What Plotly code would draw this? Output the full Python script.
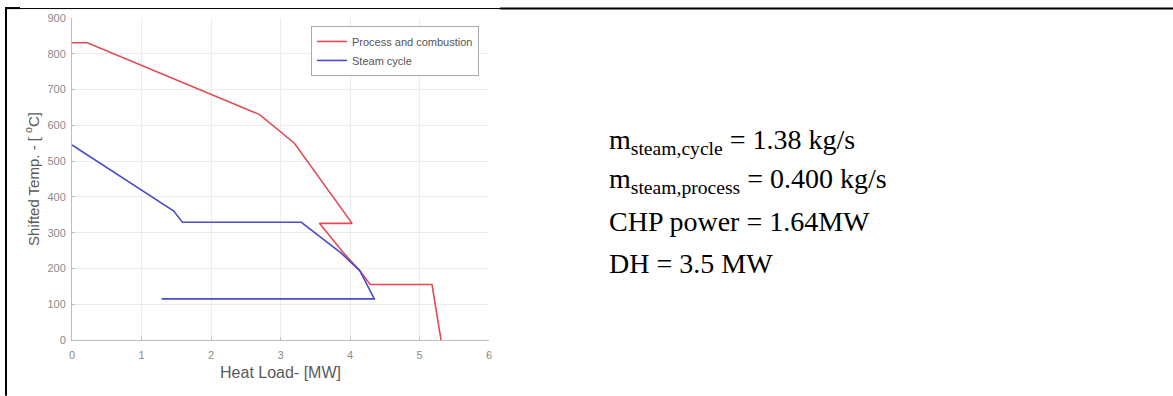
import plotly.graph_objects as go

# ---- data ----
red_name = "Process and combustion"
red_x = [0, 0.22, 2.70, 3.20, 4.03, 3.56, 3.90, 4.14, 4.29, 5.18, 5.31]
red_y = [831, 831, 630, 550, 326, 326, 245, 194, 155, 155, 0]

blue_name = "Steam cycle"
blue_x = [0, 1.46, 1.59, 3.30, 3.86, 4.14, 4.35, 1.29]
blue_y = [545, 361, 329, 329, 245, 194, 115, 115]

x_ticks = [0, 1, 2, 3, 4, 5, 6]
y_ticks = [0, 100, 200, 300, 400, 500, 600, 700, 800, 900]

info_lines = [
    "m<sub>steam,cycle</sub> = 1.38 kg/s",
    "m<sub>steam,process</sub> = 0.400 kg/s",
    "CHP power = 1.64MW",
    "DH = 3.5 MW",
]

# ---- layout geometry (pixels) ----
W, H = 1173, 396
L, R, T, B = 72, 489, 16, 340
pw, ph = R - L, B - T


def px(x):
    return (x - L) / pw


def py(y):
    return (B - y) / ph


fig = go.Figure()
fig.add_trace(go.Scatter(x=red_x, y=red_y, mode="lines", name=red_name,
                         line=dict(color="#e24a55", width=1.6)))
fig.add_trace(go.Scatter(x=blue_x, y=blue_y, mode="lines", name=blue_name,
                         line=dict(color="#4c4cc8", width=1.6)))

axis_common = dict(showgrid=True, gridcolor="#ececec", gridwidth=1,
                   zeroline=False, showline=True, linecolor="#bdbdbd", linewidth=1,
                   ticks="inside", ticklen=3, tickcolor="#bdbdbd",
                   tickfont=dict(family="Liberation Sans, Arial", size=11, color="#8a8a8a"))

fig.update_xaxes(range=[0, 6], tickvals=x_ticks, ticklabelstandoff=5,
                 title=dict(text="Heat Load- [MW]", standoff=6,
                            font=dict(family="Liberation Sans, Arial", size=16, color="#5a5a5a")),
                 **axis_common)
fig.update_yaxes(range=[0, 900], tickvals=y_ticks, ticklabelstandoff=3,
                 title=dict(text="Shifted Temp. - [ <sup>o</sup>C]", standoff=4,
                            font=dict(family="Liberation Sans, Arial", size=15, color="#5a5a5a")),
                 **axis_common)

shapes = [
    # top border: thin part then thick part
    dict(type="line", xref="paper", yref="paper", x0=px(5), x1=px(500), y0=py(6.5), y1=py(6.5),
         line=dict(color="black", width=1)),
    dict(type="line", xref="paper", yref="paper", x0=px(500), x1=px(W), y0=py(6.5), y1=py(6.5),
         line=dict(color="black", width=2)),
    dict(type="line", xref="paper", yref="paper", x0=px(5), x1=px(20), y0=py(6), y1=py(6),
         line=dict(color="black", width=2)),
    # left border
    dict(type="line", xref="paper", yref="paper", x0=px(6), x1=px(6), y0=py(5), y1=py(H),
         line=dict(color="black", width=2)),
]

annotations = []
line_y = [140, 180, 221, 263]
for txt, yy in zip(info_lines, line_y):
    annotations.append(dict(text=txt, xref="paper", yref="paper", x=px(607), y=py(yy),
                            xanchor="left", yanchor="middle", showarrow=False,
                            font=dict(family="Liberation Serif, Times New Roman", size=28, color="black")))

fig.update_layout(
    width=W, height=H,
    margin=dict(l=L, r=W - R, t=T, b=H - B, pad=0),
    paper_bgcolor="white", plot_bgcolor="white",
    showlegend=True,
    legend=dict(x=px(311), y=py(24), xanchor="left", yanchor="top",
                bordercolor="#aaaaaa", borderwidth=1, bgcolor="white",
                font=dict(family="Liberation Sans, Arial", size=11, color="#555555"),
                tracegroupgap=0, itemwidth=30),
    shapes=shapes,
    annotations=annotations,
)

fig.write_html("out.html")
